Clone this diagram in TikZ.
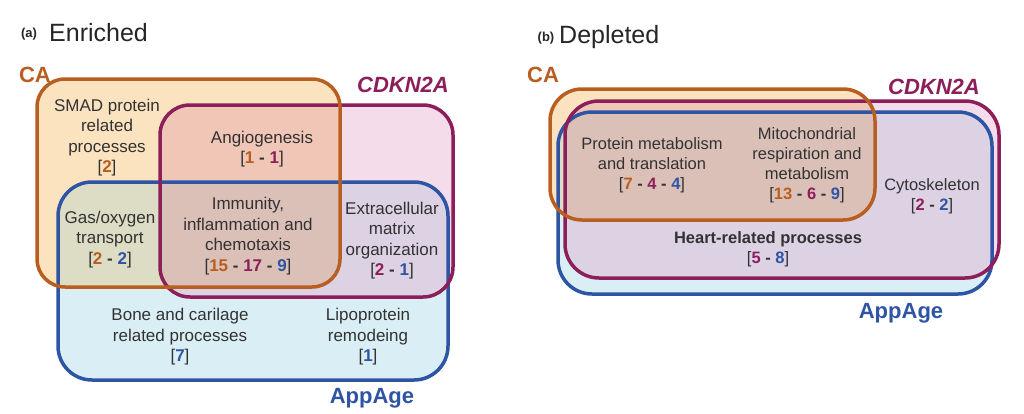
\documentclass[tikz,border=0pt]{standalone}
\usepackage{fontspec}
\setmainfont{Liberation Sans}
\definecolor{caS}{RGB}{184,94,32}
\definecolor{cdS}{RGB}{140,30,90}
\definecolor{apS}{RGB}{46,84,164}
\definecolor{caF}{RGB}{252,227,192}
\definecolor{cdF}{RGB}{244,220,234}
\definecolor{apF}{RGB}{218,239,245}
\definecolor{caCd}{RGB}{240,198,182}
\definecolor{caAp}{RGB}{220,221,196}
\definecolor{cdAp}{RGB}{220,210,228}
\definecolor{triF}{RGB}{219,192,184}
\definecolor{txt}{RGB}{50,50,50}
\newcommand{\caN}[1]{\textbf{\textcolor{caS}{#1}}}
\newcommand{\cdN}[1]{\textbf{\textcolor{cdS}{#1}}}
\newcommand{\apN}[1]{\textbf{\textcolor{apS}{#1}}}
\newcommand{\dsh}{\textbf{ - }}
% set shapes, panel a
\def\shCAa{[rounded corners=28pt] (37,79) rectangle (340,287)}
\def\shCDa{[rounded corners=30pt] (160,105) rectangle (453,297)}
\def\shAPa{[rounded corners=34pt] (58,182) rectangle (448,380)}
% set shapes, panel b
\def\shCAb{[rounded corners=32pt] (550,89) rectangle (875,220)}
\def\shCDb{[rounded corners=34pt] (565,101) rectangle (999,278)}
\def\shAPb{[rounded corners=34pt] (558,112) rectangle (992,294)}
\tikzset{
  setline/.style={line width=3.5pt},
  lbl/.style={inner sep=0pt, align=center, text=txt, font=\fontsize{17}{20.5}\selectfont},
  lblb/.style={inner sep=0pt, align=center, text=txt, font=\fontsize{16.5}{20}\selectfont},
  setname/.style={inner sep=0pt, font=\fontsize{22}{24}\selectfont\bfseries},
  ttl/.style={inner sep=0pt, anchor=west, text=black!85, font=\fontsize{25}{28}\selectfont},
  ttlsub/.style={inner sep=0pt, text=black!85, font=\fontsize{13}{15}\selectfont\bfseries},
}
\begin{document}
\begin{tikzpicture}[x=1pt,y=-1pt]
\useasboundingbox[fill=white] (0,0) rectangle (1024,413);
% ---- fills, panel a
\fill[apF] \shAPa;
\fill[cdF] \shCDa;
\fill[caF] \shCAa;
\begin{scope}\clip \shCAa; \fill[caCd] \shCDa; \end{scope}
\begin{scope}\clip \shCAa; \fill[caAp] \shAPa; \end{scope}
\begin{scope}\clip \shCDa; \fill[cdAp] \shAPa; \end{scope}
\begin{scope}\clip \shCAa; \clip \shCDa; \fill[triF] \shAPa; \end{scope}
% ---- fills, panel b
\fill[apF] \shAPb;
\fill[cdF] \shCDb;
\fill[caF] \shCAb;
\begin{scope}\clip \shCAb; \fill[caCd] \shCDb; \end{scope}
\begin{scope}\clip \shCAb; \fill[caAp] \shAPb; \end{scope}
\begin{scope}\clip \shCDb; \fill[cdAp] \shAPb; \end{scope}
\begin{scope}\clip \shCAb; \clip \shCDb; \fill[triF] \shAPb; \end{scope}
% ---- outlines
\draw[apS, setline] \shAPa;
\draw[cdS, setline] \shCDa;
\draw[caS, setline] \shCAa;
\draw[apS, setline] \shAPb;
\draw[cdS, setline] \shCDb;
\draw[caS, setline] \shCAb;
% titles
\node[ttlsub] (ta) at (29,34) {(a)};
\node[ttl] (tta) at (49,33) {Enriched};
\node[ttlsub] (tb) at (546,38) {(b)};
\node[ttl] (ttb) at (559,37) {Depleted};
% set names
\node[setname, text=caS] (caa) at (35,75) {CA};
\node[setname, text=cdS] (cda) at (403,85) {\itshape CDKN2A};
\node[setname, text=apS] (apa) at (372,398) {AppAge};
\node[setname, text=caS] (cab) at (543,75) {CA};
\node[setname, text=cdS] (cdb) at (934,87) {\itshape CDKN2A};
\node[setname, text=apS] (apb) at (901,313) {AppAge};
% panel a labels
\node[lbl] (smad) at (107,137.5) {SMAD protein\\related\\processes\\{[}\caN{2}{]}};
\node[lbl] (angio) at (262,149) {Angiogenesis\\{[}\caN{1}\dsh\cdN{1}{]}};
\node[lbl] (gas) at (110,239.5) {Gas/oxygen\\transport\\{[}\caN{2}\dsh\apN{2}{]}};
\node[lbl] (immu) at (248,236) {Immunity,\\inflammation and\\chemotaxis\\{[}\caN{15}\dsh\cdN{17}\dsh\apN{9}{]}};
\node[lbl] (ecm) at (392,240.5) {Extracellular\\matrix\\organization\\{[}\cdN{2}\dsh\apN{1}{]}};
\node[lbl] (bone) at (180,337) {Bone and carilage\\related processes\\{[}\apN{7}{]}};
\node[lbl] (lipo) at (368,337) {Lipoprotein\\remodeing\\{[}\apN{1}{]}};
% panel b labels
\node[lblb] (prot) at (652,165.5) {Protein metabolism\\and translation\\{[}\caN{7}\dsh\cdN{4}\dsh\apN{4}{]}};
\node[lblb] (mito) at (807,165) {Mitochondrial\\respiration and\\metabolism\\{[}\caN{13}\dsh\cdN{6}\dsh\apN{9}{]}};
\node[lblb] (cyto) at (932,196.5) {Cytoskeleton\\{[}\cdN{2}\dsh\apN{2}{]}};
\node[lblb] (heart) at (768,249) {\textbf{Heart-related processes}\\{[}\cdN{5}\dsh\apN{8}{]}};
\end{tikzpicture}
\end{document}
